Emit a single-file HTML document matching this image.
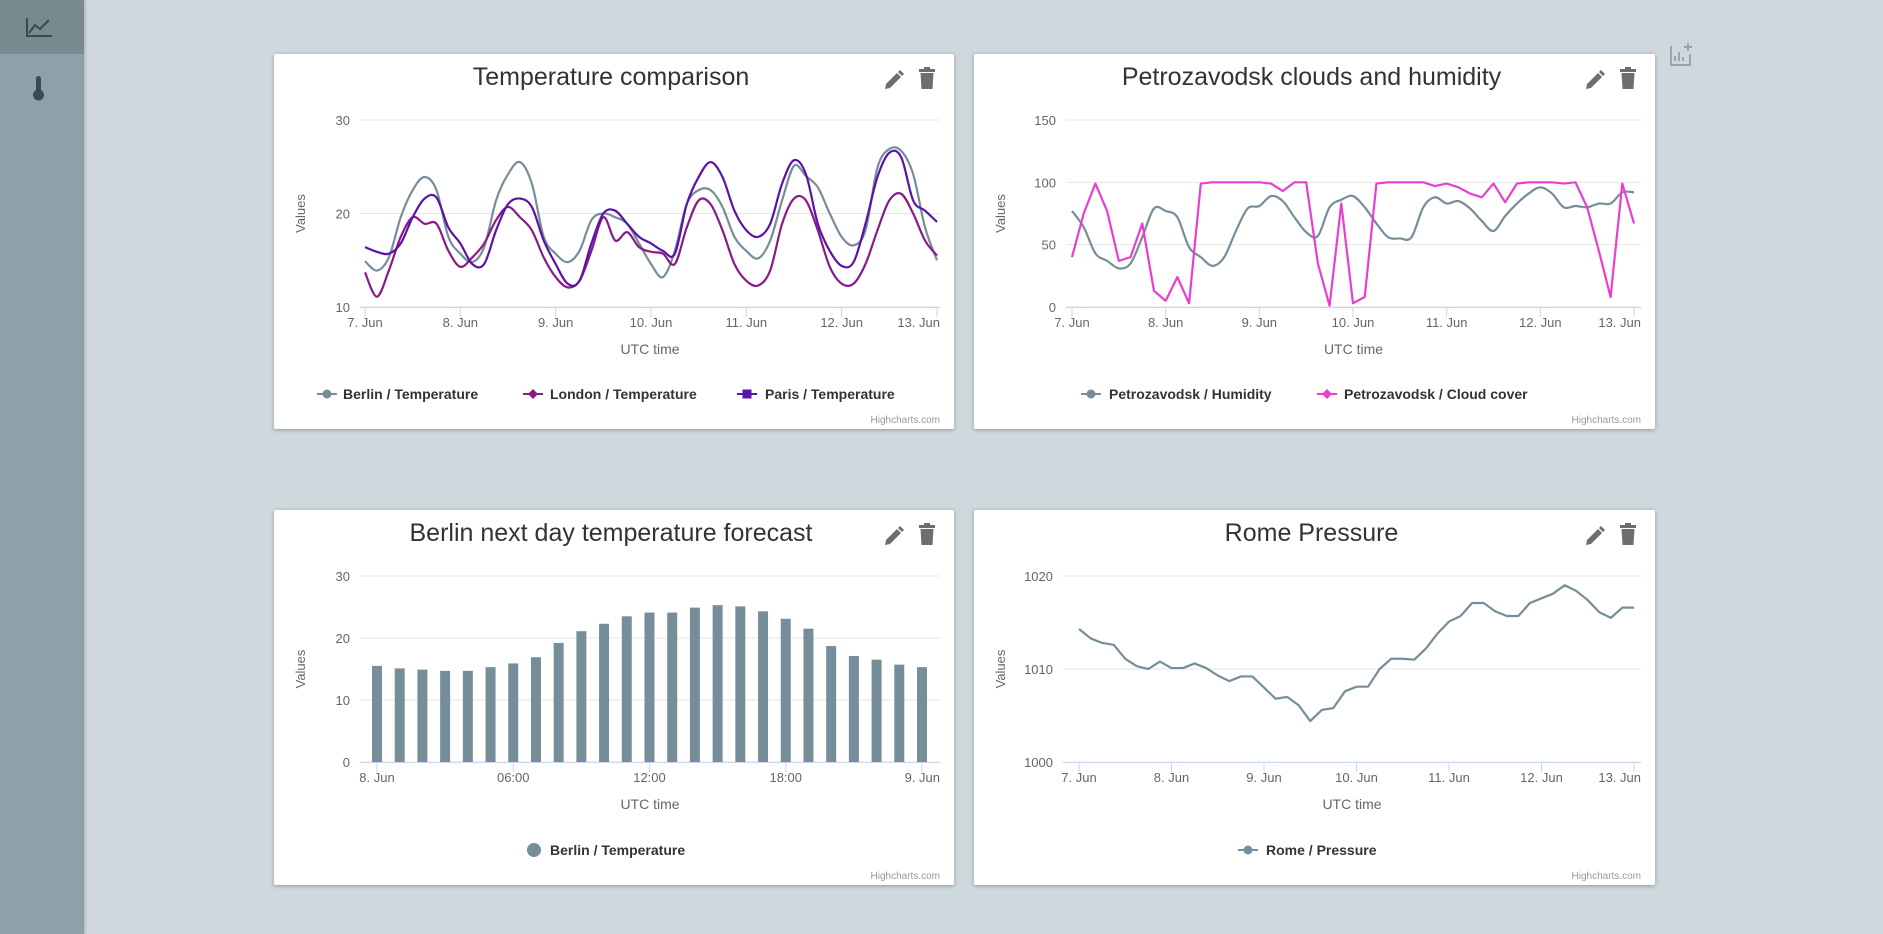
<!DOCTYPE html>
<html><head><meta charset="utf-8">
<style>
html,body{margin:0;padding:0;width:1883px;height:934px;overflow:hidden;background:#cfd8dd;font-family:"Liberation Sans",sans-serif}
#sidebar{position:absolute;left:0;top:0;width:84px;height:934px;background:#8ea0a9;box-shadow:1px 0 3px rgba(0,0,0,.2)}
#side-active{position:absolute;left:0;top:0;width:84px;height:54px;background:#78898f}
.card{position:absolute;width:680px;height:375px;background:#fff;box-shadow:0 1px 4px rgba(0,0,0,.3);border-radius:2px}
svg text{font-family:"Liberation Sans",sans-serif}
</style></head><body>
<div id="sidebar">
  <div id="side-active">
    <svg width="84" height="54"><path d="M27 18 V36 H52" stroke="#3b4a52" stroke-width="2" fill="none"/><path d="M29 33 L35 25 L40 29 L49 20" stroke="#3b4a52" stroke-width="2" fill="none"/></svg>
  </div>
  <svg style="position:absolute;left:0;top:70px" width="84" height="40"><rect x="36" y="6" width="5" height="16" rx="2.5" fill="#3b4a52"/><circle cx="38.5" cy="25" r="5.5" fill="#3b4a52"/></svg>
</div>
<svg style="position:absolute;left:1666px;top:40px" width="30" height="30"><path d="M5 6 V25 H24 V14" stroke="#9aa5ab" stroke-width="2" fill="none"/><path d="M9 21 V16 M13 21 V12 M17 21 V17" stroke="#9aa5ab" stroke-width="2"/><path d="M22 3 V11 M18 7 H26" stroke="#9aa5ab" stroke-width="2"/></svg>

<div class="card" id="c1" style="left:274px;top:54px"></div>
<div class="card" id="c2" style="left:974px;top:54px;width:681px"></div>
<div class="card" id="c3" style="left:274px;top:510px"></div>
<div class="card" id="c4" style="left:974px;top:510px;width:681px"></div>

<script>
// ---- data ----
const berlinTemp=[14.9,13.9,15.3,19.6,22.5,23.9,22.5,17.5,15.7,14.8,16.4,21.4,24.2,25.5,23.2,17.5,15.7,14.8,16,19.3,20,19.6,18.9,16.8,14.6,13.2,16,21,22.5,22.5,20.7,17.5,16,15.2,17.1,21.4,25.1,24,22.8,20,17.5,16.6,18.2,24.9,26.9,26.7,24.2,18.5,15];
const londonTemp=[13.7,11.1,13.9,17.5,19.6,18.9,18.9,16,14.3,15.3,16.8,19.3,20.7,19.6,18.2,15.3,13.2,12.1,12.8,16,19.6,17.1,18,16.4,15.9,15.7,14.6,18.5,21.4,21,18.2,14.6,12.8,12.3,13.9,18.9,21.6,21.4,18.2,14.3,12.5,12.5,14.6,18.2,21.4,22.1,20,17.1,15.5];
const parisTemp=[16.4,15.9,15.7,16.8,19.6,21.6,21.7,18.5,16.8,14.6,14.6,18.2,21,21.6,20.7,17.1,14.6,12.5,12.8,16.8,20,20.3,18.9,17.5,16.8,16,15.7,21,23.9,25.5,23.9,20.3,18.2,17.5,18.9,23.2,25.7,24.2,18.9,16,14.4,14.8,18.9,23.9,26.5,26,21.4,20.3,19.1];
const humidity=[77,64,43,37,31,35,56,79,77,72,48,40,33,40,61,79,81,89,85,72,60,57,80,86,89,80,67,56,55,56,80,88,83,85,79,69,61,73,83,91,96,91,80,81,80,83,83,92,92];
const cloudCover=[40,75,99,77,37,40,67,13,5,24,3,99,100,100,100,100,100,99,93,100,100,35,1,83,3,8,99,100,100,100,100,97,99,96,91,88,99,84,99,100,100,100,99,100,80,45,8,99,67];
const forecastHours=["00","01","02","03","04","05","06","07","08","09","10","11","12","13","14","15","16","17","18","19","20","21","22","23","24"];
const forecastTemp=[15.5,15.1,14.9,14.7,14.7,15.3,15.9,16.9,19.2,21.1,22.3,23.5,24.1,24.1,24.9,25.3,25.1,24.3,23.1,21.5,18.7,17.1,16.5,15.7,15.3];
const romePressure=[1014.3,1013.3,1012.8,1012.6,1011.1,1010.3,1010.0,1010.8,1010.1,1010.1,1010.6,1010.1,1009.3,1008.7,1009.2,1009.2,1008.0,1006.8,1007.0,1006.1,1004.4,1005.6,1005.8,1007.6,1008.1,1008.1,1010.0,1011.1,1011.1,1011.0,1012.2,1013.8,1015.1,1015.7,1017.1,1017.1,1016.2,1015.7,1015.7,1017.1,1017.6,1018.1,1019.0,1018.4,1017.4,1016.1,1015.5,1016.6,1016.6];
const dayLabels=["7. Jun","8. Jun","9. Jun","10. Jun","11. Jun","12. Jun","13. Jun"];
const tempTicks=[10,20,30];
const cloudTicks=[0,50,100,150];
const forecastTicks=[0,10,20,30];
const pressureTicks=[1000,1010,1020];
const forecastXLabels=["8. Jun","06:00","12:00","18:00","9. Jun"];

const NS="http://www.w3.org/2000/svg";
function mk(parent,tag,attrs,txt){const e=document.createElementNS(NS,tag);for(const k in attrs)e.setAttribute(k,attrs[k]);if(txt!==undefined)e.textContent=txt;parent.appendChild(e);return e;}
function smooth(pts){let d="M"+pts[0][0]+","+pts[0][1];for(let i=0;i<pts.length-1;i++){const p0=pts[i-1]||pts[i],p1=pts[i],p2=pts[i+1],p3=pts[i+2]||p2;const c1x=p1[0]+(p2[0]-p0[0])/6,c1y=p1[1]+(p2[1]-p0[1])/6,c2x=p2[0]-(p3[0]-p1[0])/6,c2y=p2[1]-(p3[1]-p1[1])/6;d+=`C${c1x},${c1y} ${c2x},${c2y} ${p2[0]},${p2[1]}`;}return d;}

function chart(id,cfg){
  const card=document.getElementById(id);const W=card.offsetWidth;
  const s=mk(card,"svg",{width:W,height:375});
  
  
  const t=mk(s,"text",{x:W/2-3,y:31,"text-anchor":"middle","font-size":25,fill:"#333"},cfg.title);
  
  
  const pen=mk(s,"g",{transform:`translate(${W-71},13)`,fill:"#6e6e6e"});
  
  
  mk(pen,"path",{d:"M3 17 L14 6 L18 10 L7 21 L2 22 Z M15 5 L17 3 L21 7 L19 9 Z"});
  const tr=mk(s,"g",{transform:`translate(${W-36},12)`,fill:"#6e6e6e"});
  
  
  mk(tr,"rect",{x:1,y:3,width:16,height:3});mk(tr,"rect",{x:6,y:1,width:6,height:3});mk(tr,"path",{d:"M2.5 7 H15.5 L14.5 23 H3.5 Z"});
  const L=cfg.left,R=W-14,T=66,B=cfg.bottom;
  const ys=v=>B-(v-cfg.ymin)/(cfg.ymax-cfg.ymin)*(B-T);
  const xs=cfg.xs;
  cfg.yticks.forEach(v=>{
    const g=mk(s,"line",{x1:L,x2:R,y1:ys(v),y2:ys(v),stroke:"#e6e6e6","stroke-width":1});
    
    
    const lb=mk(s,"text",{x:L-10,y:ys(v)+5,"text-anchor":"end","font-size":13,fill:"#666"},v);
    
    
  });
  mk(s,"line",{x1:L,x2:R,y1:B+0.5,y2:B+0.5,stroke:"#ccd6eb","stroke-width":1});
  cfg.xticks.forEach((tk,i)=>{
    const x=xs(tk);
    mk(s,"line",{x1:x,x2:x,y1:B,y2:B+10,stroke:"#ccd6eb"});
    const lb=mk(s,"text",{x:(i==cfg.xticks.length-1&&cfg.lastEnd)?R:x,y:B+20,"text-anchor":(i==cfg.xticks.length-1&&cfg.lastEnd)?"end":"middle","font-size":13,fill:"#666"},cfg.xlabels[i]);
    
    
  });
  const yt=mk(s,"text",{x:0,y:0,transform:`translate(31,${(T+B)/2}) rotate(-90)`,"text-anchor":"middle","font-size":13,fill:"#666"},"Values");
  
  
  const xt=mk(s,"text",{x:(L+R)/2,y:B+47,"text-anchor":"middle","font-size":14,fill:"#666"},"UTC time");
  
  
  cfg.series.forEach(se=>{
    if(se.type==="bar"){
      se.data.forEach((v,i)=>{
        const x=xs(i);
        const r=mk(s,"rect",{x:x-5,y:ys(v),width:10,height:B-ys(v),fill:se.color});
        
        
      });
    } else {
      const pts=se.data.map((v,i)=>[xs(i),ys(v)]);
      const p=mk(s,"path",{d:se.straight?("M"+pts.map(p=>p.join(",")).join("L")):smooth(pts),fill:"none",stroke:se.color,"stroke-width":2.2,"stroke-linejoin":"round"});
      
      
    }
  });
  cfg.legend.forEach(lg=>{
    const g=mk(s,"g",{});
    
    
    if(lg.shape==="dotbig"){mk(g,"circle",{cx:lg.mx,cy:340,r:7,fill:lg.color});}
    else{
      mk(g,"line",{x1:lg.mx-10,x2:lg.mx+10,y1:340,y2:340,stroke:lg.color,"stroke-width":2});
      if(lg.shape==="circle")mk(g,"circle",{cx:lg.mx,cy:340,r:4.5,fill:lg.color});
      if(lg.shape==="diamond")mk(g,"path",{d:`M${lg.mx} 335 L${lg.mx+5} 340 L${lg.mx} 345 L${lg.mx-5} 340Z`,fill:lg.color});
      if(lg.shape==="square")mk(g,"rect",{x:lg.mx-4.5,y:335.5,width:9,height:9,fill:lg.color});
    }
    mk(g,"text",{x:lg.tx,y:345,"font-size":14,"font-weight":"bold",fill:"#333"},lg.text);
  });
  const cr=mk(s,"text",{x:R,y:369,"text-anchor":"end","font-size":10,fill:"#999"},"Highcharts.com");
  
  
}
const dayX=(a,b)=>i=>a+(b-a)*i/48;
const dayT=[0,8,16,24,32,40,48];
chart("c1",{title:"Temperature comparison",left:86,bottom:253,ymin:10,ymax:30,yticks:tempTicks,xs:dayX(91,663),xticks:dayT,xlabels:dayLabels,lastEnd:true,
 series:[{key:"berlin",data:berlinTemp,color:"#758e99"},{key:"london",data:londonTemp,color:"#8b1a89"},{key:"paris",data:parisTemp,color:"#5a12a8"}],
 legend:[{mx:53,tx:69,color:"#758e99",shape:"circle",text:"Berlin / Temperature"},{mx:259,tx:276,color:"#8b1a89",shape:"diamond",text:"London / Temperature"},{mx:473,tx:491,color:"#5a12a8",shape:"square",text:"Paris / Temperature"}]});
chart("c2",{title:"Petrozavodsk clouds and humidity",left:92,bottom:253,ymin:0,ymax:150,yticks:cloudTicks,xs:dayX(98,660),xticks:dayT,xlabels:dayLabels,lastEnd:true,
 series:[{key:"humidity",data:humidity,color:"#758e99"},{key:"cloud-cover",data:cloudCover,color:"#e83fcf",straight:true}],
 legend:[{mx:117,tx:135,color:"#758e99",shape:"circle",text:"Petrozavodsk / Humidity"},{mx:353,tx:370,color:"#e83fcf",shape:"diamond",text:"Petrozavodsk / Cloud cover"}]});
chart("c3",{title:"Berlin next day temperature forecast",left:86,bottom:252,ymin:0,ymax:30,yticks:forecastTicks,xs:i=>103+(648-103)*i/24,xticks:[0,6,12,18,24],xlabels:forecastXLabels,lastEnd:true,
 series:[{type:"bar",key:"forecast",data:forecastTemp,color:"#758e99"}],
 legend:[{mx:260,tx:276,color:"#758e99",shape:"dotbig",text:"Berlin / Temperature"}]});
chart("c4",{title:"Rome Pressure",left:89,bottom:252,ymin:1000,ymax:1020,yticks:pressureTicks,xs:dayX(105,660),xticks:dayT,xlabels:dayLabels,lastEnd:true,
 series:[{key:"pressure",data:romePressure,color:"#758e99",straight:true}],
 legend:[{mx:274,tx:292,color:"#758e99",shape:"circle",text:"Rome / Pressure"}]});
</script>
</body></html>
